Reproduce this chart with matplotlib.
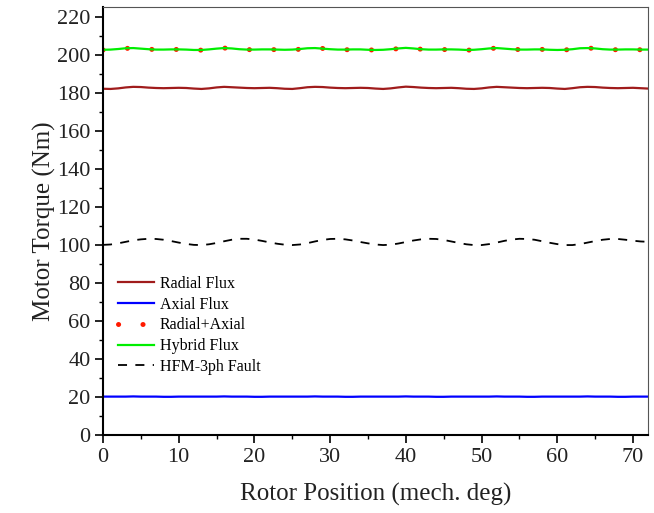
import numpy as np
import matplotlib.pyplot as plt

plt.rcParams['font.family'] = ['Liberation Serif', 'DejaVu Serif']
plt.rcParams['lines.scale_dashes'] = False

# rotor position, one sample per mech. degree
pos = np.arange(0, 73)

radial = [182.1, 182.0, 182.3, 182.8, 183.1, 183.0, 182.7, 182.5, 182.4, 182.5, 182.6, 182.5,
          182.2, 182.0, 182.3, 182.8, 183.1, 182.9, 182.7, 182.5, 182.4, 182.5, 182.6, 182.4,
          182.1, 182.0, 182.4, 182.9, 183.1, 183.0, 182.7, 182.5, 182.4, 182.5, 182.6, 182.5,
          182.2, 182.0, 182.3, 182.8, 183.2, 183.0, 182.7, 182.5, 182.4, 182.5, 182.6, 182.4,
          182.1, 182.0, 182.3, 182.8, 183.1, 182.9, 182.7, 182.5, 182.4, 182.5, 182.6, 182.5,
          182.2, 182.0, 182.4, 182.9, 183.1, 183.0, 182.7, 182.5, 182.4, 182.5, 182.6, 182.4,
          182.2]

axial = [20.2, 20.2, 20.2, 20.2, 20.3, 20.2, 20.2, 20.2, 20.1, 20.1, 20.2, 20.2,
         20.2, 20.2, 20.2, 20.2, 20.3, 20.2, 20.2, 20.2, 20.1, 20.1, 20.2, 20.2,
         20.2, 20.2, 20.2, 20.2, 20.3, 20.2, 20.2, 20.2, 20.1, 20.1, 20.2, 20.2,
         20.2, 20.2, 20.2, 20.2, 20.3, 20.2, 20.2, 20.2, 20.1, 20.1, 20.2, 20.2,
         20.2, 20.2, 20.2, 20.2, 20.3, 20.2, 20.2, 20.2, 20.1, 20.1, 20.2, 20.2,
         20.2, 20.2, 20.2, 20.2, 20.3, 20.2, 20.2, 20.2, 20.1, 20.1, 20.2, 20.2,
         20.2]

radial_axial = [202.5, 202.6, 202.9, 203.3, 203.5, 203.3, 202.9, 202.7, 202.6, 202.7, 202.8, 202.7,
                202.5, 202.4, 202.7, 203.2, 203.5, 203.3, 202.9, 202.7, 202.6, 202.7, 202.8, 202.6,
                202.5, 202.5, 202.9, 203.3, 203.5, 203.3, 202.9, 202.7, 202.6, 202.7, 202.8, 202.6,
                202.4, 202.5, 202.8, 203.2, 203.6, 203.3, 202.9, 202.7, 202.6, 202.7, 202.8, 202.6,
                202.4, 202.5, 202.8, 203.2, 203.5, 203.2, 202.9, 202.7, 202.6, 202.7, 202.8, 202.6,
                202.4, 202.5, 202.9, 203.3, 203.5, 203.3, 202.9, 202.7, 202.6, 202.7, 202.8, 202.6,
                202.6]

hybrid = [202.6, 202.7, 203.0, 203.4, 203.5, 203.2, 202.9, 202.7, 202.7, 202.8, 202.8, 202.7,
          202.5, 202.5, 202.8, 203.2, 203.5, 203.3, 202.9, 202.7, 202.7, 202.8, 202.8, 202.7,
          202.6, 202.7, 203.0, 203.4, 203.5, 203.2, 202.9, 202.7, 202.7, 202.8, 202.8, 202.6,
          202.5, 202.6, 202.9, 203.3, 203.6, 203.3, 202.9, 202.7, 202.7, 202.8, 202.8, 202.7,
          202.5, 202.6, 202.9, 203.3, 203.5, 203.2, 202.9, 202.7, 202.7, 202.8, 202.8, 202.6,
          202.5, 202.6, 202.9, 203.4, 203.5, 203.3, 202.9, 202.7, 202.7, 202.8, 202.8, 202.7,
          202.7]

hfm_fault = [100.0, 100.2, 100.8, 101.6, 102.4, 102.9, 103.2, 103.1, 102.7, 102.0, 101.2, 100.5,
             100.0, 99.9, 100.3, 101.0, 101.9, 102.7, 103.2, 103.2, 102.8, 102.1, 101.3, 100.6,
             100.1, 99.9, 100.2, 100.9, 101.8, 102.6, 103.1, 103.2, 102.9, 102.3, 101.5, 100.8,
             100.2, 99.9, 100.1, 100.7, 101.5, 102.3, 102.9, 103.2, 103.1, 102.6, 101.8, 101.0,
             100.3, 99.9, 99.9, 100.4, 101.2, 102.1, 102.8, 103.2, 103.1, 102.7, 101.9, 101.1,
             100.4, 99.9, 99.9, 100.4, 101.2, 102.0, 102.7, 103.1, 103.1, 102.7, 102.2, 101.8,
             101.6]

fig = plt.figure(figsize=(6.54, 5.13), dpi=100)
ax = fig.add_axes([0.1575, 0.152, 0.8335, 0.834])

ax.plot(pos, radial, color='#a01c1c', lw=1.6, label='Radial Flux')
ax.plot(pos, axial, color='#0000ff', lw=1.6, label='Axial Flux')
ax.plot(pos, radial_axial, color='#ff1a00', lw=3.6, linestyle=(0, (0.1, 17.5)),
        dash_capstyle='round', label='Radial+Axial')
ax.plot(pos, hybrid, color='#00ee00', lw=1.6, label='Hybrid Flux')
ax.plot(pos, hfm_fault, color='black', lw=1.3, linestyle=(0, (6.5, 6)), label='HFM-3ph Fault')

ax.set_xlim(0, 72)
ax.set_ylim(0, 225)
ax.set_xticks(np.arange(0, 71, 10))
ax.set_xticks(np.arange(5, 71, 10), minor=True)
ax.set_yticks(np.arange(0, 221, 20))
ax.set_yticks(np.arange(10, 221, 20), minor=True)
ax.tick_params(which='major', direction='out', length=6, width=1.2, labelsize=16, pad=3,
               labelcolor='#222222')
ax.tick_params(which='minor', direction='out', length=3, width=1.0)

for side in ['left', 'bottom']:
    ax.spines[side].set_linewidth(1.5)
for side in ['top', 'right']:
    ax.spines[side].set_linewidth(0.8)
    ax.spines[side].set_color('#555555')

ax.set_xlabel('Rotor Position (mech. deg)', fontsize=18, color='#222222', labelpad=12)
ax.set_ylabel('Motor Torque (Nm)', fontsize=18, color='#222222', labelpad=1)

ax.legend(loc='upper left', bbox_to_anchor=(0.027, 0.372), frameon=False, fontsize=11.5,
          handlelength=2.3, handletextpad=0.35, labelspacing=0.3, borderpad=0, borderaxespad=0)

fig.savefig('out.png', dpi=100)
